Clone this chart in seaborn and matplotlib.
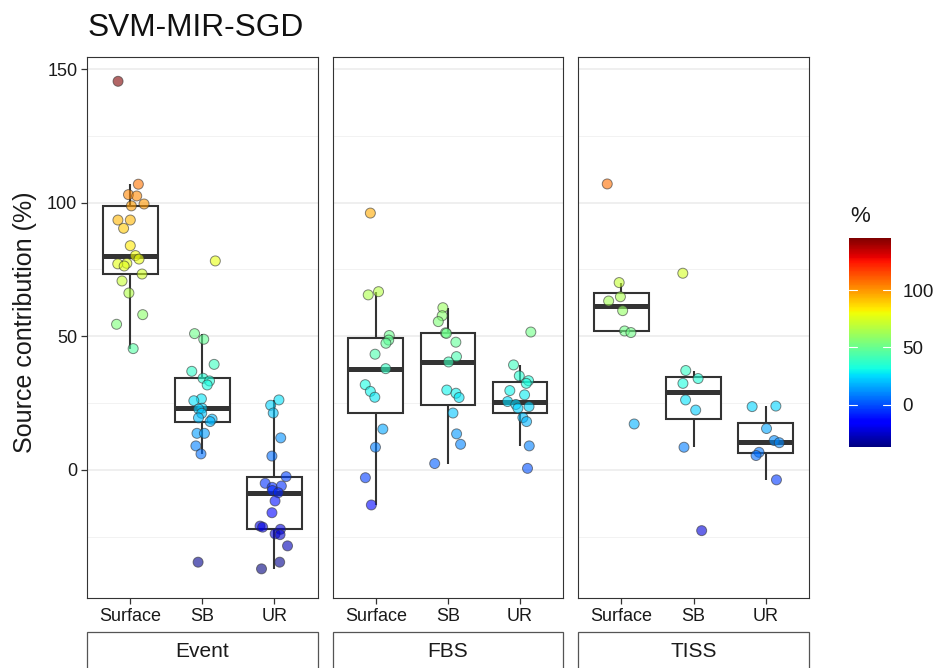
import numpy as np
import pandas as pd
import matplotlib
matplotlib.use("Agg")
import matplotlib.pyplot as plt
import seaborn as sns
from matplotlib.patches import Rectangle
from matplotlib.colors import Normalize
from matplotlib.cm import ScalarMappable

# ---------------- data ----------------
facets = ["Event", "FBS", "TISS"]
sources = ["Surface", "SB", "UR"]

event_surface = [145.4, 106.9, 103.0, 102.5, 99.5, 98.8, 93.5, 93.5, 90.4, 83.9, 80.2,
                 78.9, 77.3, 77.1, 76.3, 73.3, 70.7, 66.2, 58.1, 54.5, 45.4]
event_sb = [78.2, 51.0, 48.9, 39.5, 36.9, 34.3, 33.3, 31.8, 26.6, 25.9, 23.1,
            22.8, 21.2, 19.5, 19.0, 18.1, 13.7, 13.7, 9.0, 6.0, -34.5]
event_ur = [26.2, 24.2, 21.3, 12.0, 5.2, -2.5, -5.0, -6.0, -6.5, -7.7, -8.5,
            -11.6, -16.0, -21.0, -21.4, -22.2, -23.9, -24.2, -28.4, -34.5, -37.0]

fbs_surface = [96.1, 66.7, 65.5, 50.3, 48.6, 47.4, 43.3, 37.9, 31.9, 29.4, 27.2,
               15.3, 8.5, -2.9, -13.1]
fbs_sb = [60.7, 57.7, 55.5, 51.3, 51.1, 47.8, 42.4, 40.4, 29.9, 28.7, 27.1,
          21.3, 13.5, 9.6, 2.4]
fbs_ur = [51.6, 39.3, 35.2, 33.4, 32.4, 29.7, 28.1, 25.6, 24.5, 23.7, 23.1,
          19.6, 18.1, 9.0, 0.6]

tiss_surface = [107.0, 70.1, 64.8, 63.2, 59.6, 52.0, 51.4, 17.2]
tiss_sb = [73.6, 37.2, 34.2, 32.4, 26.2, 22.4, 8.5, -22.7]
tiss_ur = [23.9, 23.7, 15.5, 11.0, 10.2, 6.6, 5.4, -3.7]

y_ticks = [0, 50, 100, 150]
y_minor = [-25, 25, 75, 125]
y_limits = (-47.9, 154.5)
cbar_ticks = [0, 50, 100]

groups = {
    "Event": [event_surface, event_sb, event_ur],
    "FBS": [fbs_surface, fbs_sb, fbs_ur],
    "TISS": [tiss_surface, tiss_sb, tiss_ur],
}

rows = []
for f in facets:
    for s, vals in zip(sources, groups[f]):
        for v in vals:
            rows.append((f, s, v))
df = pd.DataFrame(rows, columns=["facet", "source", "value"])

# ---------------- style ----------------
sns.set_theme(style="white")
plt.rcParams["font.family"] = ["Liberation Sans", "DejaVu Sans"]

fig, axes = plt.subplots(1, 3, figsize=(9.46, 6.68), dpi=100, sharey=True)
fig.subplots_adjust(left=0.092, right=0.855, top=0.9147, bottom=0.1048, wspace=0.065)

vmin, vmax = df["value"].min(), df["value"].max()
norm = Normalize(vmin, vmax)
cmap = matplotlib.colormaps["jet"]

np.random.seed(7)
dark = "#333333"
txt = "#1a1a1a"
for i, (ax, f) in enumerate(zip(axes, facets)):
    d = df[df["facet"] == f]
    sns.boxplot(data=d, x="source", y="value", order=sources, ax=ax, width=0.76,
                showfliers=False, showcaps=False, color="white", linecolor=dark,
                linewidth=1.5, medianprops=dict(linewidth=3.6, color=dark),
                zorder=2)
    sns.stripplot(data=d, x="source", y="value", order=sources, hue="value",
                  palette=cmap, hue_norm=norm, jitter=0.2, size=7.2, alpha=0.6,
                  edgecolor="#333333", linewidth=0.7, legend=False, ax=ax, zorder=3)
    ax.set_xlim(-0.6, 2.6)
    ax.set_ylim(*y_limits)
    ax.set_yticks(y_ticks)
    ax.set_yticks(y_minor, minor=True)
    ax.yaxis.grid(True, which="major", color="#EBEBEB", lw=1.1)
    ax.yaxis.grid(True, which="minor", color="#F2F2F2", lw=0.7)
    ax.xaxis.grid(False)
    ax.set_axisbelow(True)
    for sp in ax.spines.values():
        sp.set_visible(True)
        sp.set_color(dark)
        sp.set_linewidth(0.8)
    ax.set_xlabel("")
    ax.set_ylabel("")
    ax.tick_params(axis="x", which="major", bottom=True, direction="out", length=4,
                   width=0.9, color=dark, labelsize=13, labelcolor=txt, pad=3)
    ax.tick_params(axis="y", which="minor", left=False)
    if i == 0:
        ax.tick_params(axis="y", which="major", left=True, direction="out", length=4,
                       width=0.9, color=dark, labelsize=13, labelcolor=txt, pad=3)
    else:
        ax.tick_params(axis="y", which="major", left=False, labelleft=False)
    # bottom facet strip
    ax.add_patch(Rectangle((0, -0.15), 1, 0.087, transform=ax.transAxes, clip_on=False,
                           facecolor="white", edgecolor="#555555", lw=0.9, zorder=5))
    ax.text(0.5, -0.0998, f, transform=ax.transAxes, ha="center", va="center",
            fontsize=15, color=txt, zorder=6)

fig.text(25 / 946, 1 - 322 / 668, "Source contribution (%)", rotation=90,
         fontsize=18, ha="center", va="center", color=txt)
fig.text(0.092, 1 - 28 / 668, "SVM-MIR-SGD", fontsize=22.8, ha="left", va="center",
         color="#111111")

# colour bar
cax = fig.add_axes([0.8975, 0.3308, 0.0444, 0.3129])
cb = fig.colorbar(ScalarMappable(norm=norm, cmap=cmap), cax=cax)
cb.set_ticks(cbar_ticks)
cb.outline.set_visible(False)
cax.tick_params(length=0, labelsize=13.5, pad=8, labelcolor=txt)
for t in cbar_ticks:
    cax.axhline(t, xmin=0, xmax=0.2, color="white", lw=0.8)
    cax.axhline(t, xmin=0.8, xmax=1, color="white", lw=0.8)
fig.text(850 / 946, 1 - 217 / 668, "%", fontsize=16, ha="left", va="center", color=txt)

fig.savefig("out.png", dpi=100)
